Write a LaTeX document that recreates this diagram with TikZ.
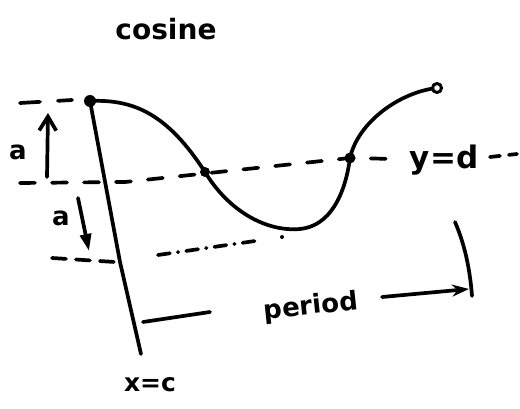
\documentclass[tikz,border=0pt]{standalone}
\usepackage{fontspec}
\setmainfont{DejaVu Sans}
\usetikzlibrary{arrows.meta}
\begin{document}
\begin{tikzpicture}[x=1pt,y=-1pt, line cap=round, line join=round,
  ink/.style={line width=3.7pt},
  dsh/.style={ink, dash pattern=on 15pt off 17pt},
  lbl/.style={font=\bfseries\fontsize{26}{28}\selectfont, inner sep=0pt},
  ]
\useasboundingbox[fill=white] (0,0) rectangle (520,409);
% key points
\coordinate (top) at (90,101);
\coordinate (mid) at (205,172);
\coordinate (low) at (300,229);
\coordinate (cross) at (350,158);
\coordinate (end) at (437,88);
\coordinate (xbot) at (141,354);
% title
\node[lbl, font=\bfseries\fontsize{28}{30}\selectfont] (title) at (166,29) {cosine};
% top dashed line
\draw[dsh, dash pattern=on 20pt off 18pt] (20,103) -- (72,100);
% y = d dashed line
\draw[dsh] (20,183) -- (125,182) -- (cross) -- (395,159);
\node[lbl, font=\bfseries\fontsize{31}{33}\selectfont] (yd) at (444,160) {y=d};
\draw[dsh, dash pattern=on 10pt off 9pt] (490,157) -- (517,154);
% lower dash-dot line
\draw[ink, dash pattern=on 14pt off 10pt] (52,258) -- (115,262);
\draw[ink, dash pattern=on 12pt off 8pt on 0.5pt off 8pt] (158,255) -- (262,240);
\fill (282,237) circle (2pt);
% vertical line x = c
\draw[ink] (top) -- (120,262) -- (xbot);
\node[lbl, font=\bfseries\fontsize{25}{27}\selectfont] (xc) at (150,385) {x=c};
% cosine curve
\draw[ink] (top) .. controls (135,99) and (168,115) .. (mid)
  .. controls (228,210) and (265,232) .. (low)
  .. controls (330,226) and (345,195) .. (cross)
  .. controls (358,122) and (400,92) .. (end);
% points
\fill (top) circle (6pt);
\fill (mid) circle (5pt);
\fill (cross) circle (5.5pt);
\draw[line width=3pt, fill=white] (end) circle (4.5pt);
% amplitude arrows
\coordinate (upA) at (47,177);
\coordinate (upB) at (48,113);
\draw[ink, -{Straight Barb[length=14pt,width=17pt]}] (upA) -- (upB);
\node[lbl] (a1) at (18,152) {a};
\coordinate (dnA) at (78,198);
\coordinate (dnB) at (89,251);
\draw[ink, -{Triangle[length=17pt,width=11pt]}] (dnA) -- (dnB);
\node[lbl] (a2) at (61,218) {a};
% period
\coordinate (tickL) at (143,322);
\coordinate (tickR) at (210,312);
\draw[ink] (tickL) -- (tickR);
\node[lbl, rotate=6] (per) at (311,307) {period};
\coordinate (arA) at (382,297);
\coordinate (arB) at (469,289);
\draw[ink, -{Stealth[length=17pt,width=12pt]}] (arA) -- (arB);
\coordinate (brT) at (455,222);
\coordinate (brB) at (472,296);
\draw[ink] (brT) .. controls (465,245) and (470,270) .. (brB);
\end{tikzpicture}
\end{document}
